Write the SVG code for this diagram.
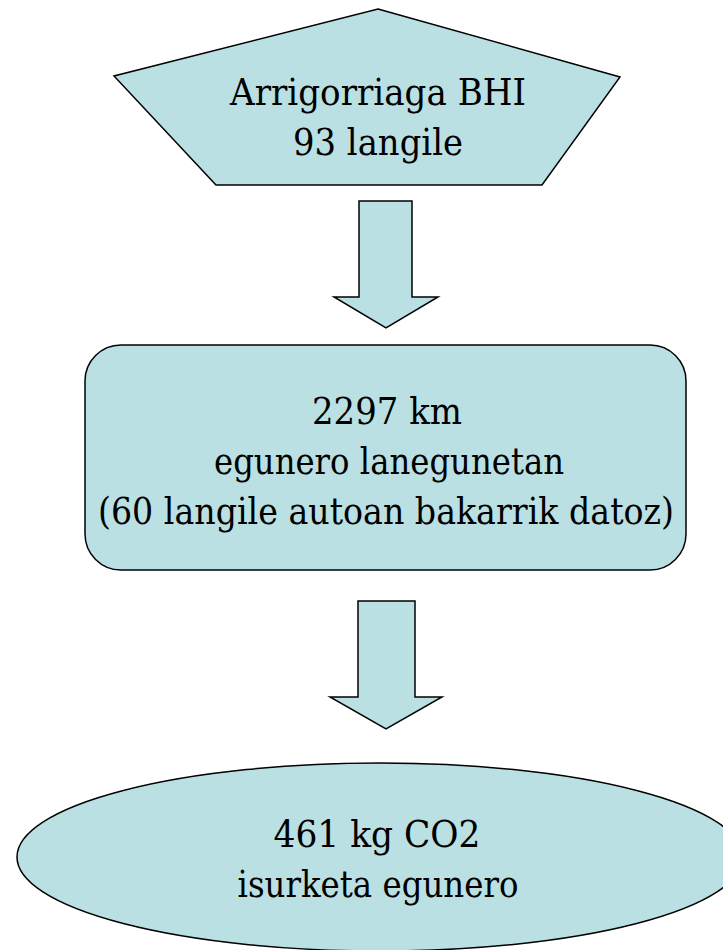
<svg xmlns="http://www.w3.org/2000/svg" width="723" height="950" viewBox="0 0 723 950">
<style>
.s{fill:#BAE0E3;stroke:#000;stroke-width:1.5}
.t{font-family:"DejaVu Serif","Liberation Serif",serif;font-size:38px;fill:#000;text-anchor:middle}
</style>
<rect width="723" height="950" fill="#fff"/>
<g id="connectors">
<polygon class="s" points="359,201 412,201 412,297 438,297 386,328 334,297 359,297"/>
<polygon class="s" points="358,601 415,601 415,697 442,697 386,729 330,697 358,697"/>
</g>
<g id="n1">
<polygon class="s" points="378,9 620,77 542,185 216,185 114,76"/>
<text class="t" x="378" y="105" textLength="296" lengthAdjust="spacingAndGlyphs">Arrigorriaga BHI</text>
<text class="t" x="378" y="155" textLength="170" lengthAdjust="spacingAndGlyphs">93 langile</text>
</g>
<g id="n2">
<rect class="s" x="85" y="345" width="601" height="225" rx="36" ry="36"/>
<text class="t" x="387" y="424" textLength="150" lengthAdjust="spacingAndGlyphs">2297 km</text>
<text class="t" x="389" y="474" textLength="350" lengthAdjust="spacingAndGlyphs">egunero lanegunetan</text>
<text class="t" x="386" y="524" textLength="576" lengthAdjust="spacingAndGlyphs">(60 langile autoan bakarrik datoz)</text>
</g>
<g id="n3">
<ellipse class="s" cx="380" cy="857" rx="363" ry="94"/>
<text class="t" x="377" y="847" textLength="207" lengthAdjust="spacingAndGlyphs">461 kg CO2</text>
<text class="t" x="378" y="897" textLength="281" lengthAdjust="spacingAndGlyphs">isurketa egunero</text>
</g>
</svg>
